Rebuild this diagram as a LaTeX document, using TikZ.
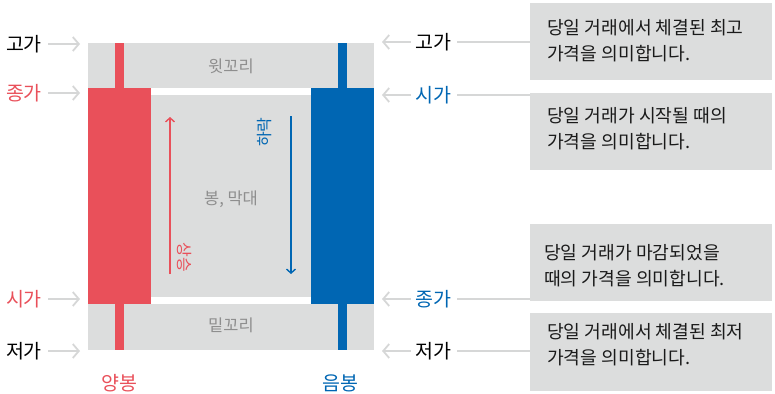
\documentclass[tikz,border=0pt]{standalone}
\usepackage{fontspec}
\setmainfont{Noto Sans CJK KR}
\usetikzlibrary{arrows.meta}
\definecolor{cred}{HTML}{E9505A}
\definecolor{cblue}{HTML}{0066B3}
\definecolor{cgray}{HTML}{DCDDDD}
\definecolor{carrow}{HTML}{D6D7D7}
\definecolor{ctext}{HTML}{8E8E8E}
\definecolor{cdark}{HTML}{1A1A1A}
\tikzset{
  lab/.style={font=\fontsize{19.5}{22}\selectfont, inner sep=0pt, anchor=center},
  midtext/.style={font=\fontsize{16.5}{19}\selectfont, text=ctext, inner sep=0pt},
  desc/.style={fill=cgray, minimum width=242pt, minimum height=77pt, inner sep=0pt, anchor=north west},
  desctext/.style={font=\fontsize{18.2}{26}\selectfont, text=cdark, align=left, anchor=west, inner sep=0pt},
  pointer/.style={draw=carrow, line width=1.8pt, -{Straight Barb[length=6pt,width=14pt,line width=1.8pt]}},
  link/.style={draw=carrow, line width=1.8pt},
  trend/.style={line width=1.6pt, -{Straight Barb[length=4pt,width=9pt,line width=1.4pt]}},
  vtext/.style={font=\fontsize{16}{19}\selectfont, inner sep=0pt}
}
\begin{document}
\begin{tikzpicture}[x=1pt,y=-1pt]
\useasboundingbox (0,0) rectangle (775,393);
% gray bands
\fill[cgray] (88,43) rectangle (374,88);
\fill[cgray] (88,95) rectangle (374,297);
\fill[cgray] (88,304) rectangle (374,350);
% red candle
\fill[cred] (115,43) rectangle (124,350);
\fill[cred] (88,88) rectangle (151,304);
% blue candle
\fill[cblue] (338,43) rectangle (347,350);
\fill[cblue] (311,88) rectangle (374,304);
% center texts
\node[midtext] (upper) at (231,66) {윗꼬리};
\node[midtext] (body) at (231,199) {봉, 막대};
\node[midtext] (lower) at (231,325) {밑꼬리};
% trend arrows
\coordinate (rs) at (170,274);
\coordinate (re) at (170,117);
\draw[trend, cred] (rs) -- (re);
\node[vtext, text=cred, rotate=-90] (up) at (184,257) {상승};
\coordinate (bs) at (291,116);
\coordinate (be) at (291,274);
\draw[trend, cblue] (bs) -- (be);
\node[vtext, text=cblue, rotate=90] (down) at (265,132) {하락};
% left labels
\node[lab] (lh) at (24,44) {고가};
\node[lab, text=cred] (lc) at (24,93) {종가};
\node[lab, text=cred] (lo) at (24,299) {시가};
\node[lab] (ll) at (24,351) {저가};
\coordinate (lht) at (80,44);
\coordinate (lct) at (80,93);
\coordinate (lot) at (80,299);
\coordinate (llt) at (80,351);
\draw[pointer] (lh.east) ++(6,0) -- (lht);
\draw[pointer] (lc.east) ++(6,0) -- (lct);
\draw[pointer] (lo.east) ++(6,0) -- (lot);
\draw[pointer] (ll.east) ++(6,0) -- (llt);
% right labels
\node[lab] (rh) at (433,42) {고가};
\node[lab, text=cblue] (ro) at (433,95) {시가};
\node[lab, text=cblue] (rc) at (433,299) {종가};
\node[lab] (rl) at (433,351) {저가};
\coordinate (rht) at (382,42);
\coordinate (rot) at (382,95);
\coordinate (rct) at (382,299);
\coordinate (rlt) at (382,351);
\draw[pointer] (rh.west) ++(-4,0) -- (rht);
\draw[pointer] (ro.west) ++(-4,0) -- (rot);
\draw[pointer] (rc.west) ++(-4,0) -- (rct);
\draw[pointer] (rl.west) ++(-4,0) -- (rlt);
% description boxes
\node[desc] (b1) at (530,3) {};
\node[desc] (b2) at (530,93) {};
\node[desc] (b3) at (530,224) {};
\node[desc, minimum height=78pt] (b4) at (530,313) {};
\node[desctext] (t1) at (547,40.5) {당일 거래에서 체결된 최고\\가격을 의미합니다.};
\node[desctext] (t2) at (547,128.5) {당일 거래가 시작될 때의\\가격을 의미합니다.};
\node[desctext] (t3) at (544,265.5) {당일 거래가 마감되었을\\때의 가격을 의미합니다.};
\node[desctext] (t4) at (547,345) {당일 거래에서 체결된 최저\\가격을 의미합니다.};
% links
\draw[link] (rh.east) ++(6,0) -- (rh.east -| b1.west);
\draw[link] (ro.east) ++(6,0) -- (ro.east -| b2.west);
\draw[link] (rc.east) ++(6,0) -- (rc.east -| b3.west);
\draw[link] (rl.east) ++(6,0) -- (rl.east -| b4.west);
% bottom labels
\node[lab, text=cred] (yang) at (119,383) {양봉};
\node[lab, text=cblue] (eum) at (340,383) {음봉};
\end{tikzpicture}
\end{document}
